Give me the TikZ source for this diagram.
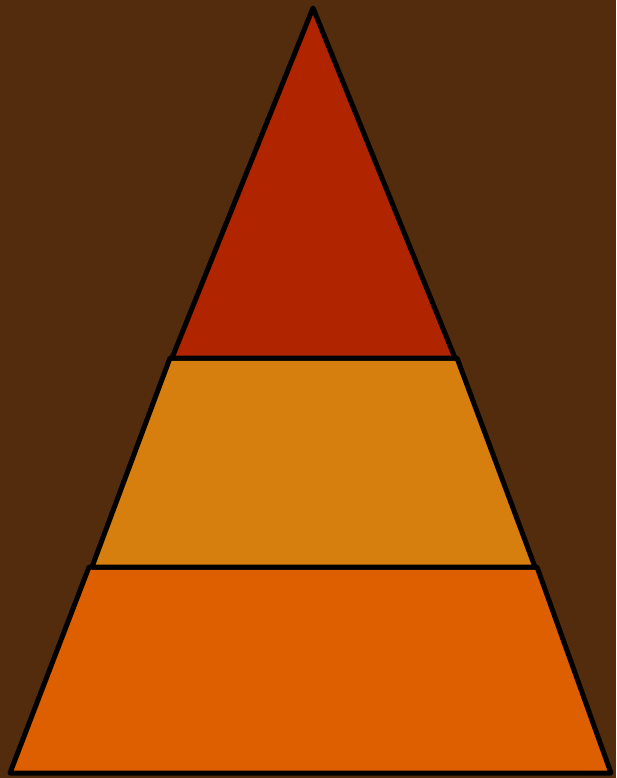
\documentclass[tikz,border=0pt]{standalone}
\definecolor{bgbrown}{HTML}{522C0D}
\definecolor{topred}{HTML}{B02500}
\definecolor{midorange}{HTML}{D67F0E}
\definecolor{botorange}{HTML}{DD5F00}
\begin{document}
\begin{tikzpicture}[x=1pt,y=-1pt,
  band/.style={draw=black,line width=5pt,line join=round}]
\fill[bgbrown] (0,0) rectangle (616,778);
\useasboundingbox (0,0) rectangle (616,778);
\coordinate (apex) at (313,8);
\coordinate (tl) at (172,358);
\coordinate (tr) at (455,358);
\coordinate (ml) at (92,567);
\coordinate (mr) at (535,567);
\coordinate (bl) at (10,773);
\coordinate (br) at (611,773);
\draw[band,fill=botorange] (89,567) -- (537,567) -- (br) -- (bl) -- cycle;
\draw[band,fill=midorange] (170,358) -- (457,358) -- (mr) -- (ml) -- cycle;
\draw[band,fill=topred] (apex) -- (tr) -- (tl) -- cycle;
\end{tikzpicture}
\end{document}
